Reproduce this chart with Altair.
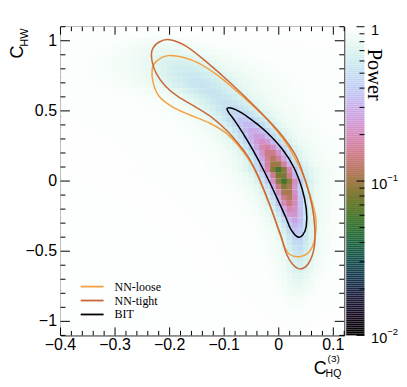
import math
import numpy as np
import pandas as pd
import altair as alt

alt.data_transformers.disable_max_rows()

# ---------------- data ----------------
# heat map: per row (y centre) the ridge centre, the minimum power and the ridge width
row_y = [round(1.08 - 0.04 * i, 2) for i in range(55)]
row_center = [-0.225, -0.22, -0.213, -0.205, -0.198,
              -0.19, -0.18, -0.17, -0.16, -0.15,
              -0.14, -0.125, -0.11, -0.098, -0.086,
              -0.075, -0.065, -0.055, -0.046, -0.038,
              -0.03, -0.022, -0.015, -0.01, -0.005,
              0.0, 0.005, 0.01, 0.012, 0.015,
              0.018, 0.02, 0.023, 0.026, 0.029,
              0.031, 0.033, 0.035, 0.036, 0.037,
              0.038, 0.038, 0.038, 0.038, 0.037,
              0.036, 0.035, 0.034, 0.033, 0.032,
              0.031, 0.03, 0.03, 0.03, 0.03]
row_min = [0.975, 0.95, 0.90, 0.84, 0.77,
           0.70, 0.65, 0.61, 0.57, 0.55,
           0.54, 0.54, 0.54, 0.52, 0.49,
           0.44, 0.39, 0.34, 0.29, 0.25,
           0.21, 0.17, 0.14, 0.12, 0.09,
           0.055, 0.07, 0.055, 0.08, 0.095,
           0.115, 0.14, 0.18, 0.22, 0.27,
           0.32, 0.37, 0.42, 0.46, 0.50,
           0.55, 0.60, 0.64, 0.69, 0.73,
           0.78, 0.82, 0.86, 0.90, 0.92,
           0.94, 0.955, 0.965, 0.975, 0.975]
row_width = [0.07, 0.075, 0.08, 0.08, 0.08,
             0.08, 0.08, 0.08, 0.08, 0.08,
             0.075, 0.07, 0.066, 0.062, 0.058,
             0.054, 0.05, 0.046, 0.043, 0.04,
             0.038, 0.036, 0.034, 0.032, 0.031,
             0.03, 0.029, 0.028, 0.027, 0.026,
             0.026, 0.026, 0.026, 0.026, 0.026,
             0.026, 0.026, 0.026, 0.026, 0.027,
             0.027, 0.028, 0.028, 0.029, 0.029,
             0.03, 0.031, 0.032, 0.033, 0.034,
             0.035, 0.035, 0.035, 0.035, 0.035]
background_power = 0.98
cell_x = [round(0.01 * i, 2) for i in range(-40, 13)]

# contours
loose_x = [-0.203, -0.176, -0.146, -0.109, -0.066, -0.024, 0.013, 0.040, 0.058, 0.068,
           0.066, 0.055, 0.037, 0.019, 0.010, 0.001, -0.009, -0.021, -0.036, -0.051,
           -0.073, -0.097, -0.127, -0.164, -0.194, -0.219, -0.230, -0.232, -0.225]
loose_y = [0.894, 0.882, 0.839, 0.745, 0.603, 0.449, 0.272, 0.083, -0.106, -0.272,
           -0.413, -0.508, -0.539, -0.520, -0.461, -0.366, -0.248, -0.130, 0.012, 0.130,
           0.248, 0.343, 0.414, 0.473, 0.527, 0.603, 0.698, 0.792, 0.851]
tight_x = [-0.200, -0.170, -0.133, -0.085, -0.036, 0.001, 0.031, 0.049, 0.061, 0.066,
           0.065, 0.055, 0.040, 0.025, 0.013, 0.005, -0.006, -0.018, -0.030, -0.042,
           -0.057, -0.073, -0.094, -0.121, -0.152, -0.185, -0.207, -0.224, -0.232, -0.232, -0.219]
tight_y = [1.007, 0.962, 0.851, 0.686, 0.501, 0.348, 0.182, 0.000, -0.177, -0.331,
           -0.473, -0.584, -0.626, -0.591, -0.508, -0.402, -0.283, -0.153, -0.035, 0.071,
           0.178, 0.260, 0.355, 0.449, 0.527, 0.603, 0.674, 0.764, 0.851, 0.934, 0.991]
bit_x = [-0.094, -0.079, -0.054, -0.024, 0.007, 0.028, 0.043, 0.0505, 0.0505, 0.044,
         0.034, 0.022, 0.013, 0.0005, -0.015, -0.030, -0.048, -0.066, -0.082, -0.092]
bit_y = [0.520, 0.509, 0.449, 0.355, 0.225, 0.095, -0.059, -0.201, -0.319, -0.385,
         -0.397, -0.343, -0.260, -0.153, -0.023, 0.095, 0.225, 0.343, 0.438, 0.490]
series_names = ["NN-loose", "NN-tight", "BIT"]
series_colors = ["#f5a042", "#c9683a", "#000000"]

# ticks and tick labels
x_major = [-0.4, -0.3, -0.2, -0.1, 0.0, 0.1]
x_major_labels = ["\u22120.4", "\u22120.3", "\u22120.2", "\u22120.1", "0", "0.1"]
x_minor = [round(-0.4 + 0.02 * i, 2) for i in range(27) if i % 5 != 0]
y_major = [-1.0, -0.5, 0.0, 0.5, 1.0]
y_major_labels = ["\u22121", "\u22120.5", "0", "0.5", "1"]
y_minor = [round(-1.1 + 0.1 * i, 1) for i in range(23) if (i - 1) % 5 != 0]
cb_major = [1.0, 0.1, 0.01]
cb_minor = [m * d for d in (0.01, 0.1) for m in range(2, 10)]
cb_labels = ["1", "10", "10"]
cb_exp_vals = [0.1, 0.01]
cb_exps = ["\u22121", "\u22122"]

# ---------------- colour map (cubehelix default) ----------------
def cubehelix(t):
    h = math.radians(300 - 540 * t + 120)
    a = 0.5 * t * (1 - t)
    c, s = math.cos(h), math.sin(h)
    r = t + a * (-0.14861 * c + 1.78277 * s)
    g = t + a * (-0.29227 * c - 0.90649 * s)
    b = t + a * (1.97294 * c)
    return "#%02x%02x%02x" % tuple(int(round(255 * min(1, max(0, v)))) for v in (r, g, b))

n_stops = 41
stop_t = [k / (n_stops - 1) for k in range(n_stops)]
color_scale = alt.Scale(type="log", domain=[10 ** (-2 + 2 * t) for t in stop_t],
                        range=[cubehelix(t) for t in stop_t], interpolate="rgb")

# ---------------- tables ----------------
cells = []
for yc, xc0, pm, w in zip(row_y, row_center, row_min, row_width):
    for xc in cell_x:
        g = (1 + ((xc - xc0) / w) ** 2) ** -1.5
        p = background_power * (min(pm, background_power) / background_power) ** g
        cells.append({"x0": xc - 0.0056, "x1": xc + 0.0056,
                      "y0": yc - 0.0206, "y1": yc + 0.0206, "p": p})
heat_df = pd.DataFrame(cells)

cont_rows = []
for name, xs_, ys_ in zip(series_names, [loose_x, tight_x, bit_x], [loose_y, tight_y, bit_y]):
    for i, (a, b) in enumerate(zip(xs_, ys_)):
        cont_rows.append({"x": a, "y": b, "name": name, "o": i})
cont_df = pd.DataFrame(cont_rows)

edges = np.logspace(-2, 0, 156)
cbar_df = pd.DataFrame({"lo": edges[:-1], "hi": edges[1:],
                        "p": np.sqrt(edges[:-1] * edges[1:])})

one = pd.DataFrame({"k": [0]})

W, H = 285, 310
xs = alt.Scale(domain=[-0.4, 0.12], nice=False, zero=False)
ys = alt.Scale(domain=[-1.1, 1.1], nice=False, zero=False)
cbs = alt.Scale(type="log", domain=[0.01, 1], nice=False)

heat = alt.Chart(heat_df).mark_rect(clip=True).encode(
    x=alt.X("x0:Q", scale=xs, axis=None),
    x2="x1:Q",
    y=alt.Y("y0:Q", scale=ys, axis=None),
    y2="y1:Q",
    color=alt.Color("p:Q", scale=color_scale, legend=None),
)

contours = alt.Chart(cont_df).mark_line(interpolate="cardinal-closed", strokeWidth=1.5).encode(
    x=alt.X("x:Q", scale=xs, axis=None),
    y=alt.Y("y:Q", scale=ys, axis=None),
    stroke=alt.Stroke("name:N", scale=alt.Scale(domain=series_names, range=series_colors), legend=None),
    detail="name:N",
    order="o:Q",
)

def xticks(vals, length):
    d = pd.DataFrame({"v": vals})
    bot = alt.Chart(d).mark_rule(color="black", strokeWidth=1).encode(
        x=alt.X("v:Q", scale=xs, axis=None), y=alt.value(H), y2=alt.value(H - length))
    top = alt.Chart(d).mark_rule(color="black", strokeWidth=1).encode(
        x=alt.X("v:Q", scale=xs, axis=None), y=alt.value(0), y2=alt.value(length))
    return [bot, top]

def yticks(vals, length):
    d = pd.DataFrame({"v": vals})
    left = alt.Chart(d).mark_rule(color="black", strokeWidth=1).encode(
        y=alt.Y("v:Q", scale=ys, axis=None), x=alt.value(0), x2=alt.value(length))
    right = alt.Chart(d).mark_rule(color="black", strokeWidth=1).encode(
        y=alt.Y("v:Q", scale=ys, axis=None), x=alt.value(W), x2=alt.value(W - length))
    return [left, right]

tick_layers = xticks(x_major, 8) + xticks(x_minor, 4.5) + yticks(y_major, 9.5) + yticks(y_minor, 5)

xlab = alt.Chart(pd.DataFrame({"v": x_major, "t": x_major_labels})).mark_text(
    align="center", baseline="top", font="Liberation Sans", fontSize=16, color="black"
).encode(x=alt.X("v:Q", scale=xs, axis=None), y=alt.value(H + 2), text="t:N")
ylab = alt.Chart(pd.DataFrame({"v": y_major, "t": y_major_labels})).mark_text(
    align="right", baseline="middle", font="Liberation Sans", fontSize=16, color="black"
).encode(y=alt.Y("v:Q", scale=ys, axis=None), x=alt.value(-3.5), text="t:N")

legend_layers = []
for i, (name, col) in enumerate(zip(series_names, series_colors)):
    yy = 261 + 14 * i
    legend_layers.append(alt.Chart(one).mark_rule(color=col, strokeWidth=1.8).encode(
        x=alt.value(20.3), x2=alt.value(43.3), y=alt.value(yy)))
    legend_layers.append(alt.Chart(one).mark_text(
        text=name, align="left", baseline="middle", font="Liberation Serif",
        fontSize=12, color="black").encode(x=alt.value(54.3), y=alt.value(yy)))

def label(txt, x, y, size, angle=0, font="Liberation Sans"):
    return alt.Chart(one).mark_text(text=txt, align="left", baseline="alphabetic",
                                    angle=angle, font=font, fontSize=size,
                                    color="black").encode(x=alt.value(x), y=alt.value(y))

title_layers = [
    label("C", -37.2, 32, 18, angle=270),
    label("HW", -33.0, 20, 11, angle=270),
    label("C", 254.3, 349, 18),
    label("HQ", 266.3, 351.5, 10.5),
    label("(3)", 268.3, 337, 10),
    label("Power", 309.3, 22, 20.5, angle=90, font="Liberation Serif"),
]

main = alt.layer(heat, contours, *tick_layers, xlab, ylab, *legend_layers, *title_layers)

# colour bar (own log y scale)
cb_x0, cb_x1 = 287.0, 305.3
cbar = alt.Chart(cbar_df).mark_rect().encode(
    x=alt.value(cb_x0), x2=alt.value(cb_x1),
    y=alt.Y("lo:Q", scale=cbs, axis=None), y2="hi:Q",
    color=alt.Color("p:Q", scale=color_scale, legend=None),
)
cb_maj = alt.Chart(pd.DataFrame({"v": cb_major})).mark_rule(color="black").encode(
    y=alt.Y("v:Q", scale=cbs, axis=None), x=alt.value(cb_x1), x2=alt.value(cb_x1 - 8))
cb_min = alt.Chart(pd.DataFrame({"v": cb_minor})).mark_rule(color="black").encode(
    y=alt.Y("v:Q", scale=cbs, axis=None), x=alt.value(cb_x1), x2=alt.value(cb_x1 - 5))
cb_lab = alt.Chart(pd.DataFrame({"v": cb_major, "t": cb_labels})).mark_text(
    align="left", baseline="middle", dy=4, font="Liberation Sans", fontSize=14.5, color="black"
).encode(y=alt.Y("v:Q", scale=cbs, axis=None), x=alt.value(312), text="t:N")
cb_exp = alt.Chart(pd.DataFrame({"v": cb_exp_vals, "t": cb_exps})).mark_text(
    align="left", baseline="middle", dy=-3, font="Liberation Sans", fontSize=9.5, color="black"
).encode(y=alt.Y("v:Q", scale=cbs, axis=None), x=alt.value(328.3), text="t:N")

colorbar = alt.layer(cbar, cb_maj, cb_min, cb_lab, cb_exp)

chart = alt.layer(main, colorbar).resolve_scale(y="independent").properties(
    width=W, height=H,
    autosize=alt.AutoSizeParams(type="none"),
    padding={"left": 52.7, "top": 18, "right": 55, "bottom": 43},
    background="white",
).configure_view(stroke="black", strokeWidth=1)

chart.save("out.html", embed_options={"renderer": "svg", "actions": False})
